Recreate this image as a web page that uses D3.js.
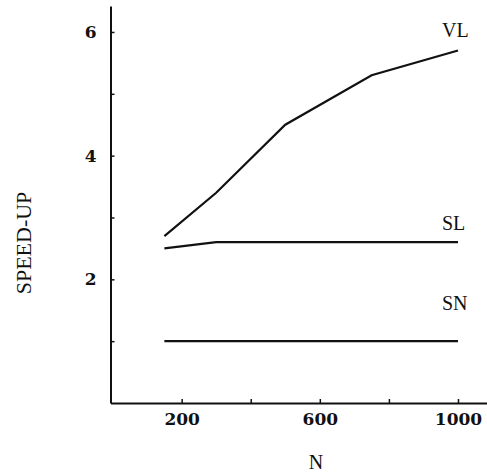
<!DOCTYPE html>
<html>
<head>
<meta charset="utf-8">
<script src="https://cdn.jsdelivr.net/npm/d3@7"></script>
<style>
    body { margin: 0; background: #fff; }
    svg { display: block; }
    .tick text { font-family: "DejaVu Serif", serif; font-weight: bold; font-size: 17px; fill: #111; }
    .lbl { font-family: "Liberation Serif", serif; fill: #111; }
</style>
</head>
<body>
<svg id="chart" width="487" height="473"></svg>
<script>
// data
const vlN = [150, 300, 500, 750, 1000];
const vlSpeed = [2.7, 3.4, 4.5, 5.3, 5.7];
const slN = [150, 300, 1000];
const slSpeed = [2.5, 2.6, 2.6];
const snN = [150, 1000];
const snSpeed = [1.0, 1.0];

const xTicks = [200, 400, 600, 800, 1000];
const xLabels = [200, 600, 1000];
const yTicks = [1, 2, 3, 4, 5, 6];
const yLabels = [2, 4, 6];

let svg = d3.select("#chart");

const x = d3.scaleLinear().domain([-6, 1084]).range([110.5, 487]);
const y = d3.scaleLinear().domain([0, 6.42]).range([403, 6]);

let xAxis = svg.append("g")
    .attr("transform", "translate(0,403)")
    .call(d3.axisBottom(x)
        .tickValues(xTicks)
        .tickSizeInner(-4)
        .tickSizeOuter(0)
        .tickPadding(10)
        .tickFormat((d) => xLabels.includes(d) ? d : ""));

let yAxis = svg.append("g")
    .attr("transform", "translate(110.5,0)")
    .call(d3.axisLeft(y)
        .tickValues(yTicks)
        .tickSizeInner(-4)
        .tickSizeOuter(0)
        .tickPadding(14)
        .tickFormat((d) => yLabels.includes(d) ? d : ""));

svg.selectAll(".domain").attr("stroke", "#111").attr("stroke-width", 2);
svg.selectAll(".tick line").attr("stroke", "#111").attr("stroke-width", 1.5);

const line = d3.line().x((d) => x(d[0])).y((d) => y(d[1]));

const series = [
    { name: "VL", pts: d3.zip(vlN, vlSpeed), lx: 442, ly: 37 },
    { name: "SL", pts: d3.zip(slN, slSpeed), lx: 442, ly: 230 },
    { name: "SN", pts: d3.zip(snN, snSpeed), lx: 442, ly: 310 }
];

series.forEach((s) => {
    svg.append("path")
        .attr("d", line(s.pts))
        .attr("fill", "none")
        .attr("stroke", "#111")
        .attr("stroke-width", 2.2);
    svg.append("text")
        .attr("class", "lbl")
        .attr("x", s.lx)
        .attr("y", s.ly)
        .style("font-size", "20px")
        .text(s.name);
});

svg.append("text")
    .attr("class", "lbl")
    .attr("x", 316)
    .attr("y", 469)
    .attr("text-anchor", "middle")
    .style("font-size", "20px")
    .text("N");

svg.append("text")
    .attr("class", "lbl")
    .attr("transform", "translate(31,243) rotate(-90)")
    .attr("text-anchor", "middle")
    .style("font-size", "22px")
    .text("SPEED-UP");
</script>
</body>
</html>
